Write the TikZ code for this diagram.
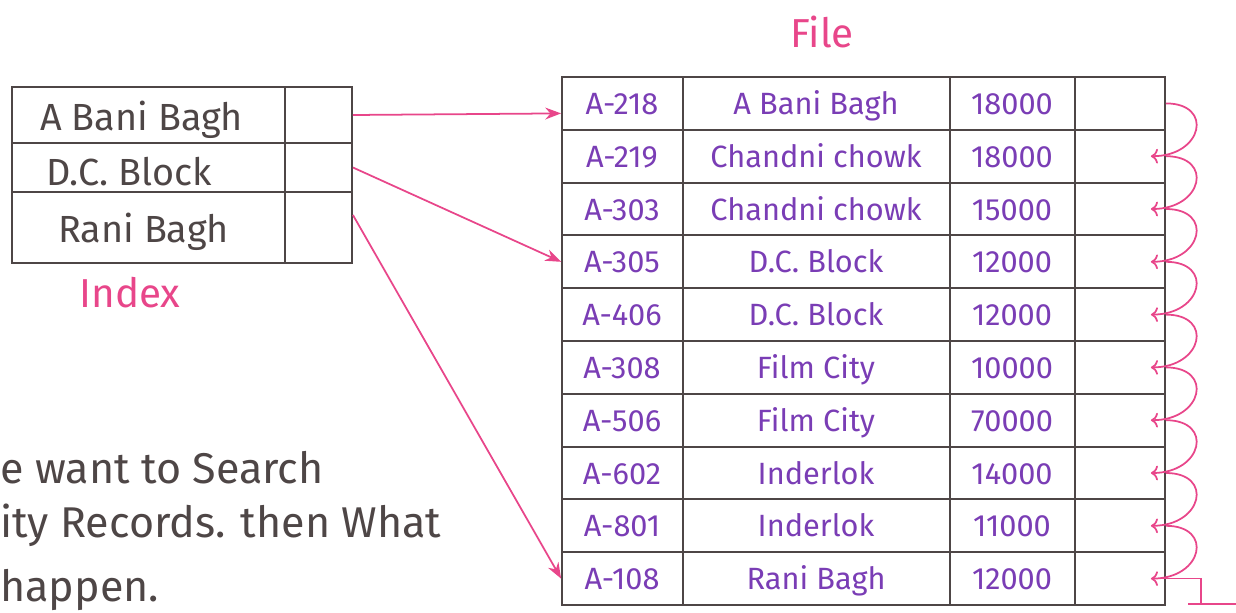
\documentclass[tikz,border=0pt]{standalone}
\usepackage{fontspec}
\setmainfont{Fira Sans}
\usepackage{xcolor}
\usepackage{tikz}
\usetikzlibrary{arrows.meta, positioning}

\definecolor{inkgrey}{HTML}{4E4646}
\definecolor{inkpurple}{HTML}{7A3DB5}
\definecolor{inkpink}{HTML}{E8468A}

\begin{document}
\begin{tikzpicture}[x=0.02cm, y=-0.02cm,
    cellbox/.style={draw=inkgrey, line width=1.1pt, inner sep=0pt},
    indextext/.style={text=inkgrey, font=\fontsize{21.5}{24}\selectfont, anchor=west},
    filetext/.style={text=inkpurple, font=\fontsize{17.5}{20}\selectfont, text height=11pt, text depth=0pt},
    labeltext/.style={text=inkpink, font=\fontsize{23}{26}\selectfont},
    notetext/.style={text=inkgrey, font=\fontsize{24.5}{30}\selectfont, anchor=west, inner sep=0pt},
    pointer/.style={draw=inkpink, line width=1pt, -{Stealth[length=9pt]}},
    chain/.style={draw=inkpink, line width=1pt, -{To[length=4pt]}}]
            \useasboundingbox (0,0) rectangle (1236,612);
            % Define nodes for the index
            \node[cellbox, minimum width=6.8cm, minimum height=1.12cm] (ix-1) at (182, 115) {};
            \node[cellbox, minimum width=6.8cm, minimum height=0.98cm] (ix-2) at (182, 167.5) {};
            \node[cellbox, minimum width=6.8cm, minimum height=1.42cm] (ix-3) at (182, 227.5) {};
            \draw[inkgrey, line width=1.1pt] (285, 87) -- (285, 263);
            \node[indextext] (key-1) at (34, 120) {A Bani Bagh};
            \node[indextext] (key-2) at (40, 172) {D.C. Block};
            \node[indextext] (key-3) at (52, 232) {Rani Bagh};
            \node[labeltext] (index-label) at (130, 293) {Index};
            % Define nodes for the file records
            \foreach \i/\id/\place/\amt in {1/A-218/A Bani Bagh/18000, 2/A-219/Chandni chowk/18000,
                3/A-303/Chandni chowk/15000, 4/A-305/D.C. Block/12000, 5/A-406/D.C. Block/12000,
                6/A-308/Film City/10000, 7/A-506/Film City/70000, 8/A-602/Inderlok/14000,
                9/A-801/Inderlok/11000, 10/A-108/Rani Bagh/12000} {
                \node[cellbox, minimum width=12.06cm, minimum height=1.056cm] (row-\i) at (863.5, {50.6+52.8*\i}) {};
                \node[filetext] (id-\i) at (622, {52+52.8*\i}) {\id};
                \node[filetext] (place-\i) at (816, {52+52.8*\i}) {\place};
                \node[filetext] (amt-\i) at (1012, {52+52.8*\i}) {\amt};
            }
            \draw[inkgrey, line width=1.1pt] (683, 77) -- (683, 605);
            \draw[inkgrey, line width=1.1pt] (950, 77) -- (950, 605);
            \draw[inkgrey, line width=1.1pt] (1075, 77) -- (1075, 605);
            \node[labeltext] (file-label) at (822, 32) {File};
            % Index pointers into the file
            \draw[pointer] (ix-1.east) -- ([yshift=-0.2cm]row-1.west);
            \draw[pointer] (ix-2.east) -- (row-4.west);
            \draw[pointer] ([yshift=0.25cm]ix-3.east) -- (row-10.west);
            % Chain from record to record
            \foreach \i [count=\n from 2] in {1,...,9} {
                \draw[chain] (row-\i.east) .. controls +(48,0) and +(52,0) .. ([xshift=-0.3cm]row-\n.east);
            }
            \coordinate (nil) at (1201, 604);
            \draw[inkpink, line width=1pt] ([xshift=-0.3cm]row-10.east) -| (nil);
            \draw[inkpink, line width=1pt] ([xshift=-0.26cm]nil) -- ([xshift=0.7cm]nil);
            % Question text
            \node[notetext] (note-1) at (0, 468) {e want to Search};
            \node[notetext] (note-2) at (0, 525) {ity Records. then What};
            \node[notetext] (note-3) at (0, 590) {happen.};
        \end{tikzpicture}
\end{document}
